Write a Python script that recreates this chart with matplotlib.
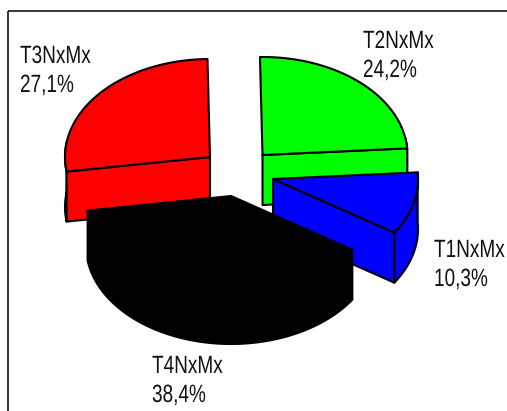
import numpy as np
import matplotlib
matplotlib.use('Agg')
import matplotlib.pyplot as plt
from matplotlib.patches import Polygon, Rectangle
from matplotlib.patheffects import AbstractPathEffect
from matplotlib.text import Text
from matplotlib.transforms import Affine2D, Bbox

plt.rcParams['font.family'] = ['Liberation Sans', 'DejaVu Sans']

labels = ['T2NxMx', 'T1NxMx', 'T4NxMx', 'T3NxMx']
shares = [24.2, 10.3, 38.4, 27.1]

colors = ['#00ff00', '#0000ff', '#000000', '#ff0000']
# exploded centre of each slice
centre_x = [262.5, 273, 231, 210]
centre_y = [155, 179, 196, 157]
draw_order = [3, 0, 1, 2]
label_x = [363, 434, 152, 20]
label_y = [48, 257, 373, 63]

rx, ry = 145, 98
depth = 50
start_angle = -1.0
narrow = 0.76


class Squeeze(AbstractPathEffect):
    # squeeze glyphs sideways around the start of the text
    def __init__(self, x0):
        super().__init__()
        self.x0 = x0

    def draw_path(self, renderer, gc, tpath, affine, rgbFace=None):
        squeeze = Affine2D().translate(-self.x0, 0).scale(narrow, 1).translate(self.x0, 0)
        renderer.draw_path(gc, tpath, affine + squeeze, rgbFace)


class NarrowText(Text):
    # extent has to follow the squeezed glyphs
    def get_window_extent(self, renderer=None, dpi=None):
        box = super().get_window_extent(renderer, dpi)
        return Bbox.from_extents(box.x0, box.y0, box.x0 + box.width * narrow, box.y1)


def arc(cx, cy, t0, t1):
    # t is measured clockwise from the top of the pie
    t = np.radians(np.linspace(t0, t1, 80))
    return np.column_stack([cx + rx * np.sin(t), cy - ry * np.cos(t)])


def draw_slice(ax, cx, cy, t0, t1, color):
    style = dict(facecolor=color, edgecolor='black', linewidth=1.5, joinstyle='round')
    down = np.array([0, depth])
    top = arc(cx, cy, t0, t1)

    # outer rim, only the part on the front of the pie
    r0, r1 = max(t0, 80), min(t1, 280)
    if r0 < r1:
        rim = arc(cx, cy, r0, r1)
        ax.add_patch(Polygon(np.vstack([rim, (rim + down)[::-1]]), **style))

    # cut walls that face the front
    for t, visible in [(t0, 180 < t0 < 350), (t1, 0 < t1 < 180)]:
        p = arc(cx, cy, t, t)[0]
        c = np.array([cx, cy])
        if visible:
            ax.add_patch(Polygon([c, p, p + down, c + down], **style))

    # top face
    ax.add_patch(Polygon(np.vstack([[cx, cy], top]), **style))


fig = plt.figure(figsize=(5.07, 4.11), dpi=100)
ax = fig.add_axes([0, 0, 1, 1])
ax.set_xlim(0, 507)
ax.set_ylim(411, 0)
ax.axis('off')

# chart frame
ax.add_patch(Rectangle((8, 11), 600, 500, fill=False, edgecolor='black', linewidth=1.1))

edges = start_angle + np.concatenate([[0], np.cumsum(shares)]) * 3.6
for i in draw_order:
    draw_slice(ax, centre_x[i], centre_y[i], edges[i], edges[i + 1], colors[i])

for i in range(len(labels)):
    pct = f'{shares[i]:.1f}'.replace('.', ',') + '%'
    for line, y in [(labels[i], label_y[i]), (pct, label_y[i] + 29)]:
        txt = NarrowText(label_x[i], y, line, fontsize=18, color='#111111', va='baseline', ha='left',
                         path_effects=[Squeeze(label_x[i])])
        ax.add_artist(txt)

fig.savefig('out.png', dpi=100)
